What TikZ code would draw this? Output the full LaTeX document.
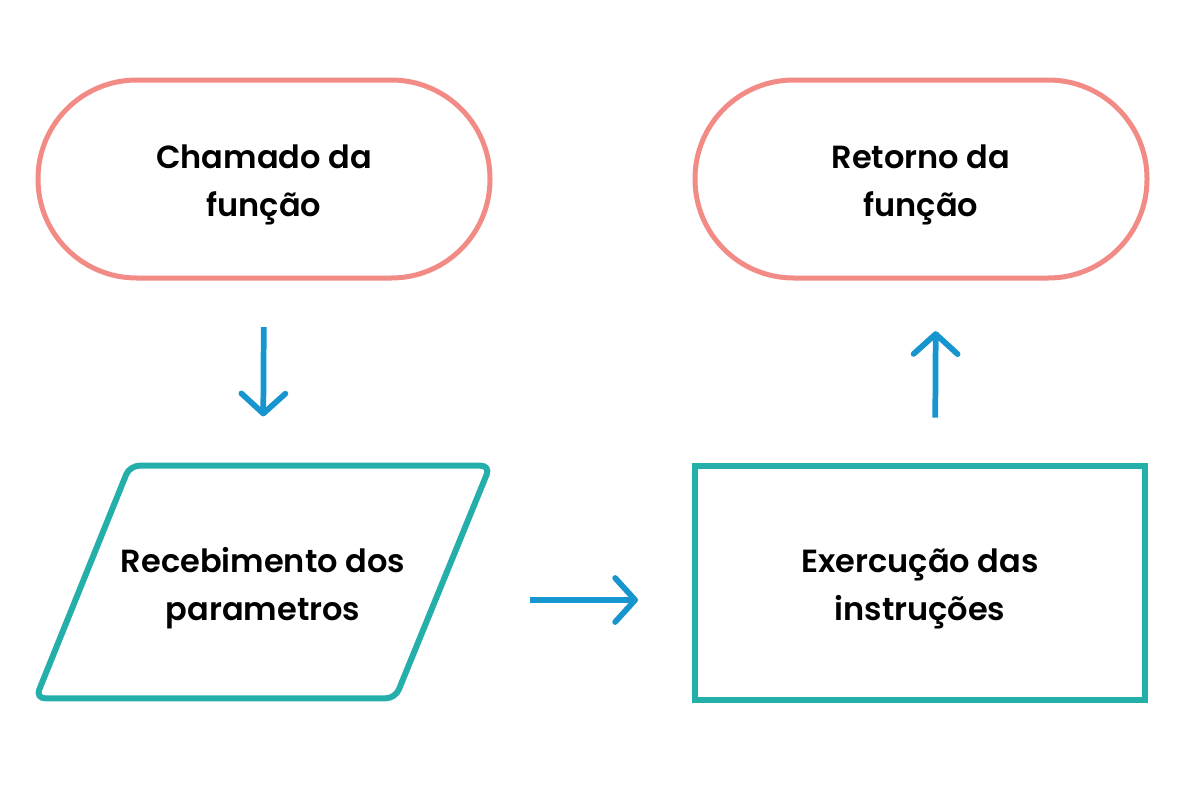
\documentclass[tikz,border=0pt]{standalone}
\usepackage{fontspec}
\setmainfont{Poppins}[UprightFont=* SemiBold, BoldFont=* SemiBold]
\usetikzlibrary{arrows.meta}
\usetikzlibrary{shapes}

\definecolor{salmon}{HTML}{F28A86}
\definecolor{teal}{HTML}{25AFAA}
\definecolor{flowblue}{HTML}{1795CF}

\tikzset{
    boxtext/.style={align=center, yshift=-4.5pt, font=\fontsize{24}{36}\selectfont},
    pill/.style={draw=salmon, line width=3.75pt, rectangle, rounded corners=74pt,
        minimum width=339pt, minimum height=148.5pt},
    databox/.style={rectangle, minimum width=340.5pt, minimum height=174pt},
    dataline/.style={draw=teal, line width=4.5pt, rounded corners=7pt},
    procbox/.style={draw=teal, line width=4.5pt, rectangle,
        minimum width=337.5pt, minimum height=175.5pt},
    flow/.style={draw=flowblue, line width=4.3pt,
        -{Straight Barb[length=15pt, width=33pt, round]}},
}

\begin{document}
\begin{tikzpicture}[x=0.75pt, y=-0.75pt]

    \useasboundingbox (0, 0) rectangle (1184, 796);

    % Declare the states
    \node[pill, label={[boxtext]center:Chamado da\\função}] at (264, 179) (call) {};
    \node[pill, label={[boxtext]center:Retorno da\\função}] at (921, 179) (ret) {};
    \node[databox, label={[boxtext]center:Recebimento dos\\parametros}] at (263, 582) (recv) {};
    \node[procbox, label={[boxtext]center:Exercução das\\instruções}] at (920, 583) (exec) {};

    % Declare the parallelogram outline
    \draw[dataline] (recv.south west) -- ([xshift=70.5pt]recv.north west)
        -- (recv.north east) -- ([xshift=-71.25pt]recv.south east) -- cycle;

    % Declare edges
    \draw[flow, shorten <=200pt, shorten >=40.5pt] ([yshift=-13.5pt]recv.center) -- ([yshift=-12.75pt]exec.west);
    \draw[flow, shorten <=35pt, shorten >=37pt] (call.south) -- (recv.north);
    \draw[flow, shorten <=34pt, shorten >=38pt] ([xshift=11.25pt]exec.north) -- ([xshift=11.25pt]ret.south);

\end{tikzpicture}
\end{document}
